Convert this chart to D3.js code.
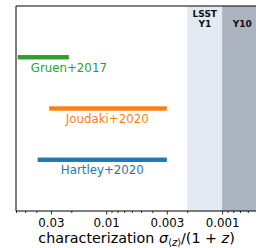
<!DOCTYPE html>
<html>
<head>
<meta charset="utf-8">
<script src="https://cdn.jsdelivr.net/npm/d3@7"></script>
<style>
  body { margin: 0; background: #fff; }
  svg { display: block; font-family: "DejaVu Sans", sans-serif; }
</style>
</head>
<body>
<div id="container"></div>
<script>
// data
const names = ["Gruen+2017", "Joudaki+2020", "Hartley+2020"];
const rows = [1, 2, 3];
const lows = [0.058, 0.031, 0.039];     // left (largest) end of each bar
const highs = [0.021, 0.003, 0.003];    // right end of each bar
const labelAt = [0.021, 0.0098, 0.0108];
const colors = ["#2ca02c", "#ff7f0e", "#1f77b4"];

const tickValues = [0.03, 0.01, 0.003, 0.001];
const tickLabels = ["0.03", "0.01", "0.003", "0.001"];

const bandNames = ["LSST\nY1", "Y10"];
const bandFrom = [0.002, 0.001];
const bandTo = [0.001, 0.0005];
const bandLabelAt = [0.00141, 0.00067];
const bandColors = ["#e4eaf3", "#abb4bf"];

const width = 256, height = 248;
const margin = { top: 6, right: -1, bottom: 37, left: 16 };

const svg = d3.select("#container")
    .append("svg")
    .attr("width", width)
    .attr("height", height);

// reversed log axis
const x = d3.scaleLog()
    .domain([0.06, 0.0005])
    .range([margin.left, width - margin.right]);

const y = d3.scaleLinear()
    .domain([0, 4])
    .range([margin.top, height - margin.bottom]);

// requirement bands
const bands = svg.append("g");
bandFrom.forEach((b, i) => {
    bands.append("rect")
        .attr("x", x(b))
        .attr("y", y(0))
        .attr("width", x(bandTo[i]) - x(b))
        .attr("height", y(4) - y(0))
        .attr("fill", bandColors[i]);

    const lines = bandNames[i].split("\n");
    const t = bands.append("text")
        .attr("text-anchor", "middle")
        .attr("font-weight", "bold")
        .attr("font-size", "9px")
        .attr("fill", "#111");
    lines.forEach((l, j) => {
        t.append("tspan")
            .attr("x", x(bandLabelAt[i]))
            .attr("y", 26.5 - (lines.length - 1 - j) * 9.8)
            .text(l);
    });
});

// bars
const bars = svg.append("g");
names.forEach((n, i) => {
    bars.append("rect")
        .attr("x", x(lows[i]))
        .attr("y", y(rows[i]) - 2.2)
        .attr("width", x(highs[i]) - x(lows[i]))
        .attr("height", 4.4)
        .attr("fill", colors[i]);

    bars.append("text")
        .attr("x", x(labelAt[i]))
        .attr("y", y(rows[i]) + 14.5)
        .attr("text-anchor", "middle")
        .attr("font-size", "11.8px")
        .attr("fill", colors[i])
        .text(n);
});

// x axis with minor ticks
const minor = [];
for (let e = -4; e <= -1; e++) {
    for (let m = 2; m <= 9; m++) {
        const v = m * Math.pow(10, e);
        if (v <= 0.06 && v >= 0.0005 && !tickValues.some(t => Math.abs(t - v) / v < 1e-6)) minor.push(v);
    }
}

const xAxis = svg.append("g")
    .attr("transform", `translate(0,${y(4)})`);

xAxis.append("g")
    .call(d3.axisBottom(x).tickValues(minor).tickSize(2).tickFormat(""))
    .call(g => g.select(".domain").remove());

xAxis.append("g")
    .call(d3.axisBottom(x).tickValues(tickValues).tickSize(3.5).tickPadding(4)
        .tickFormat((d, i) => tickLabels[i]))
    .call(g => g.select(".domain").remove())
    .call(g => g.selectAll("text").attr("font-size", "11.8px").attr("fill", "#000")
        .attr("font-family", "DejaVu Sans"));

xAxis.selectAll(".tick line").attr("stroke", "#000").attr("stroke-width", 0.8);

// spines
svg.append("path")
    .attr("d", `M${margin.left},${y(4)}V${y(0)}H${width + 2}M${margin.left},${y(4)}H${width + 2}`)
    .attr("fill", "none")
    .attr("stroke", "#000")
    .attr("stroke-width", 1);

// axis title
const title = svg.append("text")
    .attr("x", (margin.left + width - margin.right) / 2)
    .attr("y", 243)
    .attr("text-anchor", "middle")
    .attr("font-size", "14.3px")
    .attr("fill", "#000");
title.append("tspan").text("characterization ");
title.append("tspan").attr("font-style", "italic").text("σ");
title.append("tspan").attr("font-size", "10px").attr("dy", 3).text("⟨");
title.append("tspan").attr("font-size", "10px").attr("font-style", "italic").text("z");
title.append("tspan").attr("font-size", "10px").text("⟩");
title.append("tspan").attr("dy", -3).text("/(1 + ");
title.append("tspan").attr("font-style", "italic").text("z");
title.append("tspan").text(")");
</script>
</body>
</html>
